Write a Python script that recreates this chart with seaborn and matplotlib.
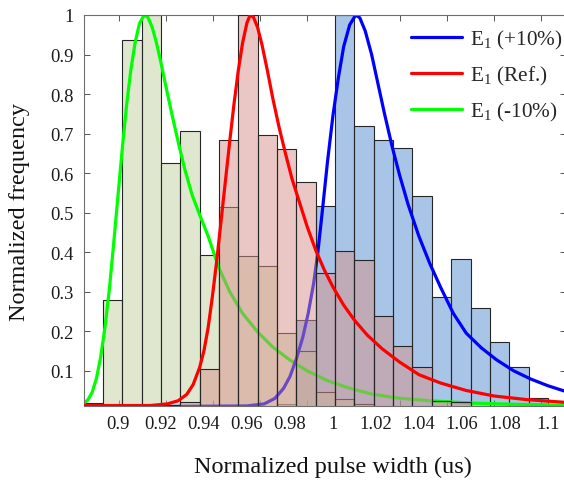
import matplotlib
matplotlib.use("Agg")
import matplotlib.pyplot as plt
import seaborn as sns

# ---- data -------------------------------------------------------------
# shared bin edges of the three normalized pulse-width histograms
bin_edges = [0.884, 0.893, 0.902, 0.911, 0.920, 0.929, 0.938, 0.947, 0.956,
             0.965, 0.974, 0.983, 0.992, 1.001, 1.010, 1.019, 1.028, 1.037,
             1.046, 1.055, 1.064, 1.073, 1.082, 1.091, 1.100, 1.109]

# normalized bar heights, one value per bin
hist_minus10 = [0.018, 0.279, 0.938, 1.0, 0.626, 0.706, 0.394, 0.513, 0.391,
                0.366, 0.195, 0.149, 0.047, 0.028, 0.016, 0.0, 0.0, 0.0, 0.0,
                0.0, 0.0, 0.0, 0.0, 0.0, 0.0]
hist_ref = [0.0, 0.0, 0.0, 0.0, 0.0, 0.020, 0.104, 0.684, 1.0, 0.696, 0.661,
            0.578, 0.346, 0.404, 0.381, 0.239, 0.163, 0.109, 0.024, 0.020,
            0.0, 0.0, 0.0, 0.0, 0.0]
hist_plus10 = [0.0, 0.0, 0.0, 0.0, 0.0, 0.0, 0.0, 0.0, 0.0, 0.0, 0.016, 0.228,
               0.517, 1.0, 0.720, 0.685, 0.663, 0.541, 0.286, 0.382, 0.259,
               0.173, 0.109, 0.030, 0.0]

# fitted distribution curves (normalized to unit peak)
fit_minus10_x = [0.8837, 0.8860, 0.8880, 0.8900, 0.8920, 0.8940, 0.8960,
                 0.8980, 0.9000, 0.9020, 0.9040, 0.9060, 0.9080, 0.9100,
                 0.9122, 0.9140, 0.9160, 0.9180, 0.9200, 0.9225, 0.9250,
                 0.9280, 0.9310, 0.9345, 0.9380, 0.9420, 0.9470, 0.9520,
                 0.9580, 0.9650, 0.9720, 0.9800, 0.9880, 0.9970, 1.0070,
                 1.0180, 1.0300, 1.0450, 1.0650, 1.0850, 1.1080]
fit_minus10_y = [0.016, 0.026, 0.045, 0.080, 0.135, 0.210, 0.305,
                 0.420, 0.540, 0.660, 0.770, 0.860, 0.930, 0.978,
                 1.000, 0.994, 0.968, 0.928, 0.880, 0.815, 0.752,
                 0.680, 0.612, 0.545, 0.495, 0.440, 0.360, 0.300,
                 0.245, 0.198, 0.160, 0.127, 0.100, 0.076, 0.057,
                 0.041, 0.031, 0.024, 0.018, 0.015, 0.013]

fit_ref_x = [0.8840, 0.9150, 0.9230, 0.9280, 0.9320, 0.9350, 0.9380, 0.9400,
             0.9420, 0.9440, 0.9460, 0.9480, 0.9500, 0.9520, 0.9540, 0.9560,
             0.9580, 0.9600, 0.9615, 0.9630, 0.9650, 0.9670, 0.9695, 0.9720,
             0.9750, 0.9780, 0.9810, 0.9845, 0.9880, 0.9920, 0.9960, 1.0000,
             1.0050, 1.0100, 1.0160, 1.0230, 1.0310, 1.0400, 1.0500, 1.0620,
             1.0750, 1.0900, 1.1080]
fit_ref_y = [0.012, 0.012, 0.016, 0.024, 0.040, 0.065, 0.108, 0.150,
             0.210, 0.290, 0.380, 0.480, 0.580, 0.680, 0.775, 0.860,
             0.930, 0.980, 1.000, 0.995, 0.968, 0.925, 0.860, 0.790,
             0.715, 0.648, 0.585, 0.525, 0.465, 0.405, 0.355, 0.312,
             0.266, 0.228, 0.190, 0.155, 0.122, 0.090, 0.069, 0.050,
             0.036, 0.027, 0.020]

fit_plus10_x = [0.8840, 0.9600, 0.9680, 0.9730, 0.9770, 0.9800, 0.9830,
                0.9860, 0.9885, 0.9910, 0.9930, 0.9950, 0.9975, 1.0000,
                1.0025, 1.0050, 1.0078, 1.0106, 1.0125, 1.0150, 1.0180,
                1.0210, 1.0240, 1.0275, 1.0310, 1.0350, 1.0400, 1.0450,
                1.0500, 1.0560, 1.0620, 1.0690, 1.0760, 1.0840, 1.0920,
                1.1000, 1.1080]
fit_plus10_y = [0.008, 0.011, 0.016, 0.030, 0.055, 0.085, 0.130,
                0.185, 0.245, 0.320, 0.400, 0.500, 0.630, 0.745,
                0.840, 0.920, 0.975, 1.000, 0.993, 0.960, 0.900,
                0.825, 0.750, 0.668, 0.595, 0.520, 0.440, 0.372,
                0.312, 0.245, 0.195, 0.158, 0.128, 0.100, 0.079,
                0.062, 0.048]

legend_labels = ["E$_1$ (+10%)", "E$_1$ (Ref.)", "E$_1$ (-10%)"]

x_tick_values = [0.90, 0.92, 0.94, 0.96, 0.98, 1.00, 1.02, 1.04, 1.06, 1.08, 1.10]
x_tick_labels = ["0.9", "0.92", "0.94", "0.96", "0.98", "1", "1.02", "1.04",
                 "1.06", "1.08", "1.1"]
y_tick_values = [0.1, 0.2, 0.3, 0.4, 0.5, 0.6, 0.7, 0.8, 0.9, 1.0]
y_tick_labels = ["0.1", "0.2", "0.3", "0.4", "0.5", "0.6", "0.7", "0.8", "0.9", "1"]

# ---- style ------------------------------------------------------------
sns.set_style("ticks")
plt.rcParams["font.family"] = ["Liberation Serif", "DejaVu Serif"]
plt.rcParams["mathtext.fontset"] = "custom"
plt.rcParams["mathtext.rm"] = "Liberation Serif"
plt.rcParams["mathtext.it"] = "Liberation Serif:italic"

fig = plt.figure(figsize=(5.64, 4.81), dpi=100)
ax = fig.add_axes([83.5 / 564, (481 - 407.3) / 481, (566 - 83.5) / 564, (407.3 - 16) / 481])

centers = [(a + b) / 2 for a, b in zip(bin_edges[:-1], bin_edges[1:])]
hist_kw = dict(bins=bin_edges, stat="count", element="bars", alpha=0.5,
               edgecolor="#262626", linewidth=0.8, ax=ax)

sns.histplot(x=centers, weights=hist_plus10, color="#538bd1", zorder=1, **hist_kw)
sns.histplot(x=centers, weights=hist_minus10, color="#c1d1a1", zorder=1, **hist_kw)

line_kw = dict(estimator=None, sort=False, linewidth=2.3, ax=ax)
sns.lineplot(x=fit_minus10_x, y=fit_minus10_y, color="#00ff00", zorder=2, **line_kw)
sns.lineplot(x=fit_plus10_x, y=fit_plus10_y, color="#0000ff", zorder=2, **line_kw)

sns.histplot(x=centers, weights=hist_ref, color="#d7918b", zorder=3, **hist_kw)
sns.lineplot(x=fit_ref_x, y=fit_ref_y, color="#ff0000", zorder=4, **line_kw)

for ln in ax.lines:
    ln.set_solid_joinstyle("round")
    ln.set_solid_capstyle("round")

ax.set_xlim(0.884, 1.1084)
ax.set_ylim(0.01, 1.0)

ax.set_xticks(x_tick_values)
ax.set_xticklabels(x_tick_labels)
ax.set_xticks([0.90047 + 0.021814 * k for k in range(10)], minor=True)
ax.tick_params(axis="x", which="major", length=0, pad=6, labelsize=13.3,
               labelcolor="#1a1a1a")
ax.tick_params(axis="x", which="minor", direction="in", length=4, top=True,
               bottom=True, color="#555555", width=0.7)
ax.set_yticks(y_tick_values)
ax.set_yticklabels(y_tick_labels)
ax.tick_params(axis="y", which="major", direction="in", length=4, left=True,
               right=True, pad=7, labelsize=13.3, labelcolor="#1a1a1a",
               color="#555555", width=0.7)
ax.tick_params(axis="y", which="minor", length=0)

for sp in ax.spines.values():
    sp.set_visible(True)
    sp.set_color("#6e6e6e")
    sp.set_linewidth(0.8)

ax.set_xlabel("Normalized pulse width (us)", fontsize=17.5, color="#111111")
ax.xaxis.set_label_coords(0.516, -0.126)
ax.set_ylabel("Normalized frequency", fontsize=17.5, color="#111111")
ax.yaxis.set_label_coords(-0.111, 0.5)

lines = {l.get_color(): l for l in ax.lines}
handles = [lines["#0000ff"], lines["#ff0000"], lines["#00ff00"]]
ax.legend(handles=handles, labels=legend_labels, loc="upper left",
          bbox_to_anchor=(0.679, 0.967), frameon=False, fontsize=15.3,
          handlelength=2.4, handletextpad=0.35, labelspacing=0.62,
          borderaxespad=0, borderpad=0)

fig.savefig("out.png", dpi=100)
